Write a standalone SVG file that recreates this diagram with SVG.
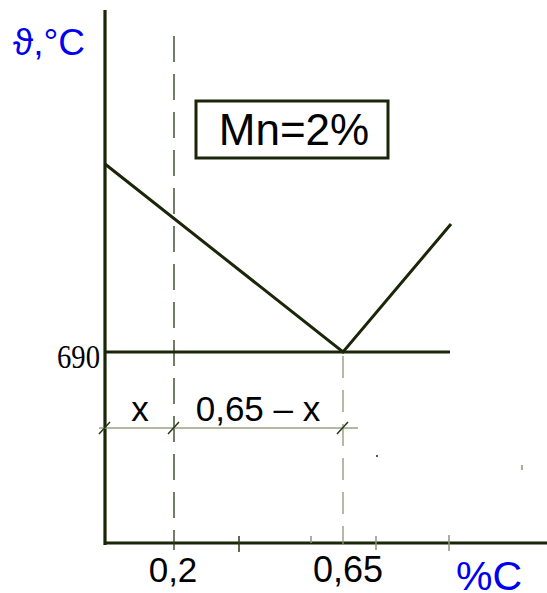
<svg xmlns="http://www.w3.org/2000/svg" width="547" height="593" viewBox="0 0 547 593">
<style>
.ax{stroke:#1a2608;stroke-width:3.2;fill:none}
.ln{stroke:#1a2608;stroke-width:3;fill:none;stroke-linejoin:miter}
.dash{stroke:#2a3818;stroke-width:1.3;stroke-dasharray:26 12;fill:none}
.dash2{stroke:#8e9478;stroke-width:1.3;stroke-dasharray:22 12;fill:none}
.dim{stroke:#9aa084;stroke-width:1.3;fill:none}
.tk{stroke:#2a3818;stroke-width:1.5}
.tkl{stroke:#8e9478;stroke-width:1.5}
.t{font-family:"Liberation Sans",Arial,sans-serif;fill:#000}
.b{font-family:"Liberation Sans",Arial,sans-serif;fill:#0000ee}
</style>
<rect width="547" height="593" fill="#fff"/>
<g id="axes">
<line class="ax" x1="105" y1="10" x2="105" y2="545"/>
<line class="ax" x1="104" y1="543" x2="547" y2="543"/>
<line class="tk" x1="239" y1="536" x2="239" y2="552"/>
<line class="tkl" x1="311" y1="536" x2="311" y2="543"/>
<line class="tkl" x1="376" y1="536" x2="376" y2="550"/>
<line class="tkl" x1="449" y1="535" x2="449" y2="551"/>
</g>
<g id="guides">
<line class="dash" x1="174" y1="36" x2="174" y2="550"/>
<line class="dash2" x1="343" y1="356" x2="343" y2="545"/>
</g>
<g id="curves">
<polyline class="ln" points="105,164 343,352 451,224"/>
<line class="ln" x1="105" y1="352" x2="450" y2="352"/>
</g>
<g id="dimension">
<line class="dim" x1="99" y1="428" x2="358" y2="428"/>
<line class="tk" x1="99" y1="434" x2="110" y2="422"/>
<line class="tk" x1="168" y1="434" x2="179" y2="422"/>
<line class="tk" x1="337" y1="434" x2="348" y2="422"/>
<text class="t" x="140" y="421" font-size="35" text-anchor="middle">x</text>
<text class="t" x="258" y="421" font-size="35" text-anchor="middle">0,65 – x</text>
</g>
<g id="label-box">
<rect x="196" y="101" width="192" height="57" fill="#fff" stroke="#1a2608" stroke-width="3"/>
<text class="t" x="294" y="145" font-size="44" text-anchor="middle">Mn=2%</text>
</g>
<g id="labels">
<text class="b" x="13" y="55" font-size="37">ϑ,°C</text>
<text x="57" y="368" font-size="33" textLength="43" lengthAdjust="spacingAndGlyphs" font-family="'Liberation Serif',serif">690</text>
<text class="t" x="173" y="582" font-size="35" text-anchor="middle">0,2</text>
<text class="t" x="348" y="582" font-size="36" text-anchor="middle">0,65</text>
<text class="b" x="456" y="590" font-size="41">%C</text>
</g>
<g id="specks">
<rect x="376" y="455" width="2" height="2" fill="#556"/>
<rect x="521" y="465" width="2" height="5" fill="#a8b090"/>
</g>
</svg>
